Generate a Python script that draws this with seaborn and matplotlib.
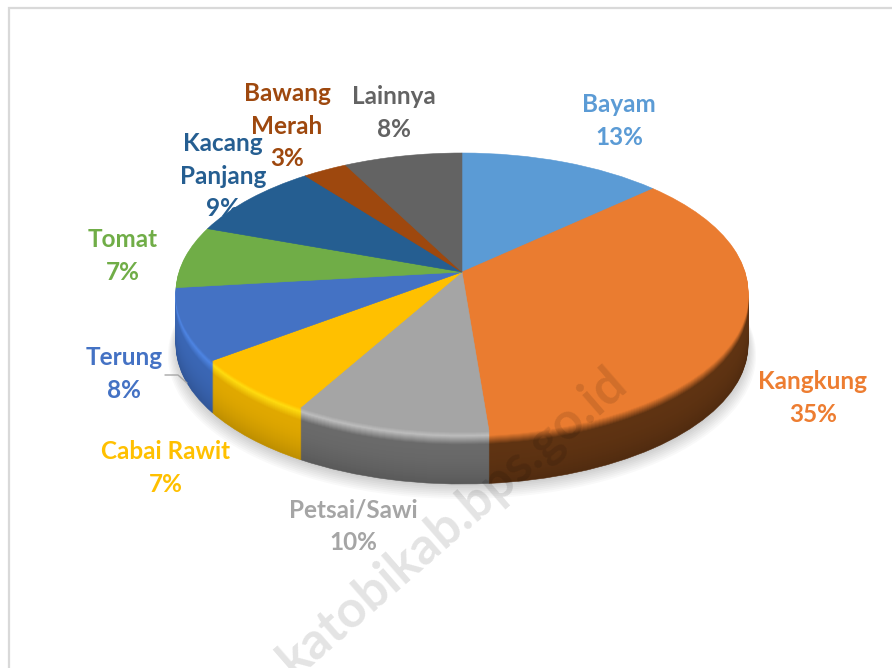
import numpy as np
import matplotlib
matplotlib.use("Agg")
import matplotlib.pyplot as plt
import matplotlib.transforms as mtransforms
import seaborn as sns

categories = ["Bayam", "Kangkung", "Petsai/Sawi", "Cabai Rawit", "Terung", "Tomat",
              "Kacang\nPanjang", "Bawang\nMerah", "Lainnya"]
# shares read from the slice boundaries, labels show them rounded
values = [13.3, 35.4, 9.6, 6.6, 8.3, 7.2, 9.0, 2.9, 7.7]

face_hex = ["#5b9bd5", "#ea7c30", "#a5a5a5", "#ffc000", "#4472c4", "#70ad47",
            "#255e91", "#9e480e", "#636363"]
shine_hex = ["#6fb0ea", "#ea7c30", "#bdbdbd", "#ffdc10", "#4f86e4", "#84c758",
             "#2f72b0", "#b85a18", "#7c7c7c"]
side_hex = ["#3a6a96", "#5f3312", "#6a6a6a", "#e0a800", "#3a66b4", "#4a7a2e",
            "#1b4468", "#6b300a", "#444444"]
label_hex = ["#5b9bd5", "#ed7d31", "#a5a5a5", "#ffc000", "#4472c4", "#70ad47",
             "#255e91", "#9e480e", "#636363"]
label_xy = [(619, 121), (813, 398), (353, 526), (166, 468), (124, 374), (123, 256),
            (223, 176), (287, 126), (394, 113)]

APEX = (462, 272)
RX, RY, K = 283, 136.5, 0.147
DEPTH = 52


class Persp(mtransforms.Transform):
    # unit circle -> tilted disc, apex sits above the ellipse centre
    input_dims = 2
    output_dims = 2

    def __init__(self, dy=0, grow=1.0):
        super().__init__()
        self.dy = dy
        self.grow = grow

    def transform_non_affine(self, values):
        xy = np.asarray(values, dtype=float)
        w = 1 + K * xy[:, 1]
        x = APEX[0] + self.grow * RX * xy[:, 0] / w
        y = APEX[1] + self.dy - self.grow * RY * xy[:, 1] / w
        return np.column_stack([x, y])


def mix(a, b, t):
    return tuple(np.array(a) * (1 - t) + np.array(b) * t)


def draw_pie(colors, dy=0, grow=1.0):
    wedges, _ = ax.pie(values, colors=colors, startangle=90, counterclock=False)
    for w, c in zip(wedges, colors):
        w.set_transform(Persp(dy, grow) + ax.transData)
        w.set_edgecolor(c)
        w.set_linewidth(0.4)
        w.set_clip_on(False)
    return wedges


sns.set_theme(style="white")
plt.rcParams["font.family"] = ["Lato", "DejaVu Sans"]

face = sns.color_palette(face_hex)
shine = sns.color_palette(shine_hex)
side = sns.color_palette(side_hex)

fig = plt.figure(figsize=(8.92, 6.68), dpi=100)
ax = fig.add_axes([0, 0, 1, 1])

# soft shadow under the disc
for i in range(8):
    wedges, _ = ax.pie([1], colors=[(0, 0, 0, 0.022)], startangle=90, counterclock=False)
    wedges[0].set_transform(Persp(DEPTH + 2 + i * 1.2, 1.0 + 0.004 * i) + ax.transData)
    wedges[0].set_linewidth(0)
    wedges[0].set_clip_on(False)

# rim, bottom layer first
for d in np.arange(DEPTH, 0, -1.0):
    if d > 13:
        cols = [mix(s, tuple(c * 0.85 for c in s), ((d - 13) / (DEPTH - 13)) ** 2) for s in side]
    elif d > 4:
        cols = [mix(h, s, (d - 4) / 9) for h, s in zip(shine, side)]
    else:
        cols = [mix(f, h, d / 4) for f, h in zip(face, shine)]
    draw_pie(cols, d)

# top face
draw_pie(list(face))

ax.set_aspect("auto")
ax.set_xlim(0, 892)
ax.set_ylim(668, 0)
ax.set_axis_off()

# chart frame, the right side is outside the crop
ax.plot([9, 9, 892], [668, 8, 8], color="#d9d9d9", lw=1.6, solid_joinstyle="miter")

# leader line for Terung
ax.plot([165, 178, 187], [375, 375, 383], color="#a6a6a6", lw=1)

ax.text(453, 522, "katobikab.bps.go.id", rotation=41, rotation_mode="anchor", ha="center", va="center",
        fontsize=37, fontweight="bold", color="black", alpha=0.11)

for name, v, c, (x, y) in zip(categories, values, label_hex, label_xy):
    ax.text(x, y, f"{name}\n{v:.0f}%", color=c, ha="center", va="center", fontsize=17.5,
            fontweight="bold", linespacing=1.5)

fig.savefig("out.png", dpi=100)
